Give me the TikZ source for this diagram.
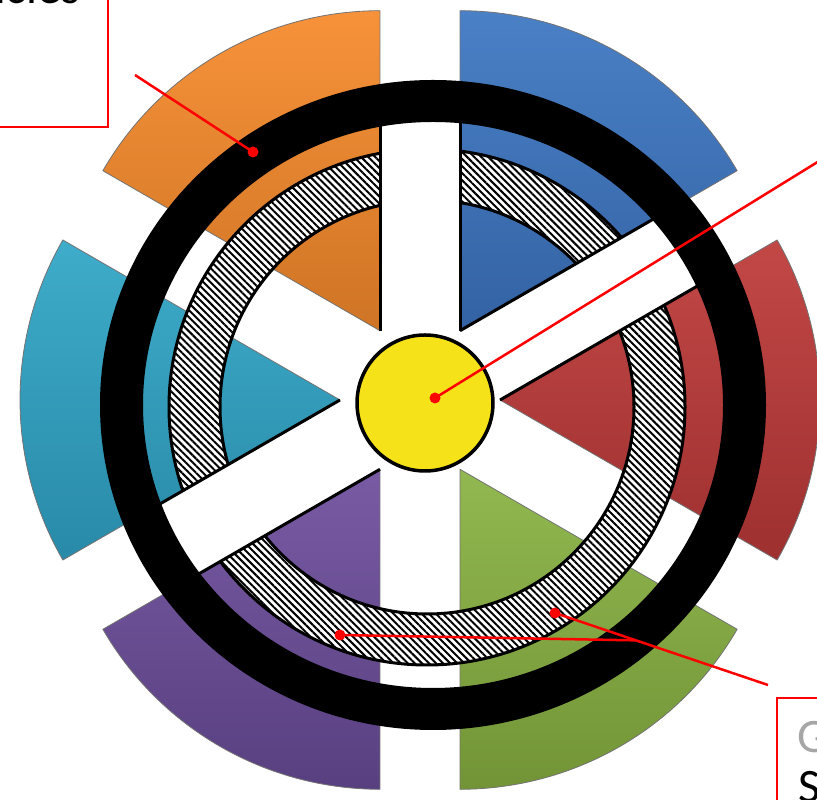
\documentclass[tikz,border=0pt]{standalone}
\usepackage{fontspec}
\setmainfont{Carlito}
\usetikzlibrary{calc,patterns.meta}

\definecolor{orangeA}{RGB}{247,146,58}
\definecolor{orangeB}{RGB}{198,110,32}
\definecolor{blueA}{RGB}{74,128,198}
\definecolor{blueB}{RGB}{46,92,156}
\definecolor{redA}{RGB}{194,72,70}
\definecolor{redB}{RGB}{158,48,48}
\definecolor{greenA}{RGB}{152,192,86}
\definecolor{greenB}{RGB}{114,148,54}
\definecolor{purpleA}{RGB}{128,96,172}
\definecolor{purpleB}{RGB}{88,64,128}
\definecolor{cyanA}{RGB}{62,172,202}
\definecolor{cyanB}{RGB}{40,138,168}
\definecolor{hubyellow}{RGB}{245,226,24}

\begin{document}
\begin{tikzpicture}[
  x=1pt, y=1pt,
  every node/.style={font=\fontsize{48}{52}\selectfont},
  sector/.style={draw=black!55, line width=0.8pt},
  spoke/.style={draw=black, line width=3pt},
  leader/.style={draw=red, line width=2.5pt},
  dot/.style={circle, fill=red, inner sep=0pt, minimum size=11pt},
  callout/.style={draw=red, line width=2pt}
]
  \useasboundingbox (0,0) rectangle (817,800);
  \clip (0,0) rectangle (817,800);

  \coordinate (S) at (420,400);
  \coordinate (H) at (427,393);
  \coordinate (B) at (433,395);

  \foreach \bis/\shadeA/\shadeB in {120/orangeA/orangeB, 60/blueA/blueB, 0/redA/redB,
      -60/greenA/greenB, -120/purpleA/purpleB, 180/cyanA/cyanB}
    \path[sector, top color=\shadeA, bottom color=\shadeB]
      (S) ++(\bis:80) -- ++(\bis+30:320)
      arc[start angle=\bis+30, end angle=\bis-30, radius=320] -- cycle;

  \path[fill=white, even odd rule] (H) circle[radius=258] (H) circle[radius=207];
  \path[pattern={Lines[angle=-45, distance=5pt, line width=2pt]}, even odd rule]
    (H) circle[radius=258] (H) circle[radius=207];
  \draw[line width=3pt] (H) circle[radius=258] (H) circle[radius=207];

  \foreach \ang in {90,30,210} {
    \begin{scope}[shift={(S)}, rotate=\ang]
      \fill[white] (0,-40) rectangle (300,40);
      \draw[spoke] (69.3,40) -- (300,40) (69.3,-40) -- (300,-40);
    \end{scope}
  }

  \fill[black, even odd rule] (B) ellipse[x radius=333, y radius=325]
    (B) ellipse[x radius=290, y radius=283];

  \node[draw, line width=3.5pt, circle, fill=hubyellow, minimum size=136pt, inner sep=0pt]
    (hub) at (425,397) {};

  \draw[callout] (-10,673) rectangle (108,810);
  \draw[callout] (777,-10) rectangle (830,102);

  \node[anchor=base east, inner sep=0pt] (toptext) at (80,796) {ncles};
  \node[anchor=base west, inner sep=0pt, text=black!35] (gtext) at (797,47) {G};
  \node[anchor=base west, inner sep=0pt] (stext) at (798,-3) {S};

  \coordinate (tlend) at (135,725);
  \coordinate (trend) at (850,658);
  \coordinate (brend) at (768,115);
  \coordinate (ringpt) at (253,648);
  \coordinate (hubpt) at (435,402);
  \coordinate (leftpt) at (340,165);
  \coordinate (rightpt) at (555,187);
  \coordinate (join) at ($(brend)!0.62!(rightpt)$);

  \draw[leader] (tlend) -- (ringpt);
  \draw[leader] (hubpt) -- (trend);
  \draw[leader] (brend) -- (rightpt);
  \draw[leader] (leftpt) -- (join);

  \node[dot] (ringdot) at (ringpt) {};
  \node[dot] (hubdot) at (hubpt) {};
  \node[dot] (leftdot) at (leftpt) {};
  \node[dot] (rightdot) at (rightpt) {};
\end{tikzpicture}
\end{document}
